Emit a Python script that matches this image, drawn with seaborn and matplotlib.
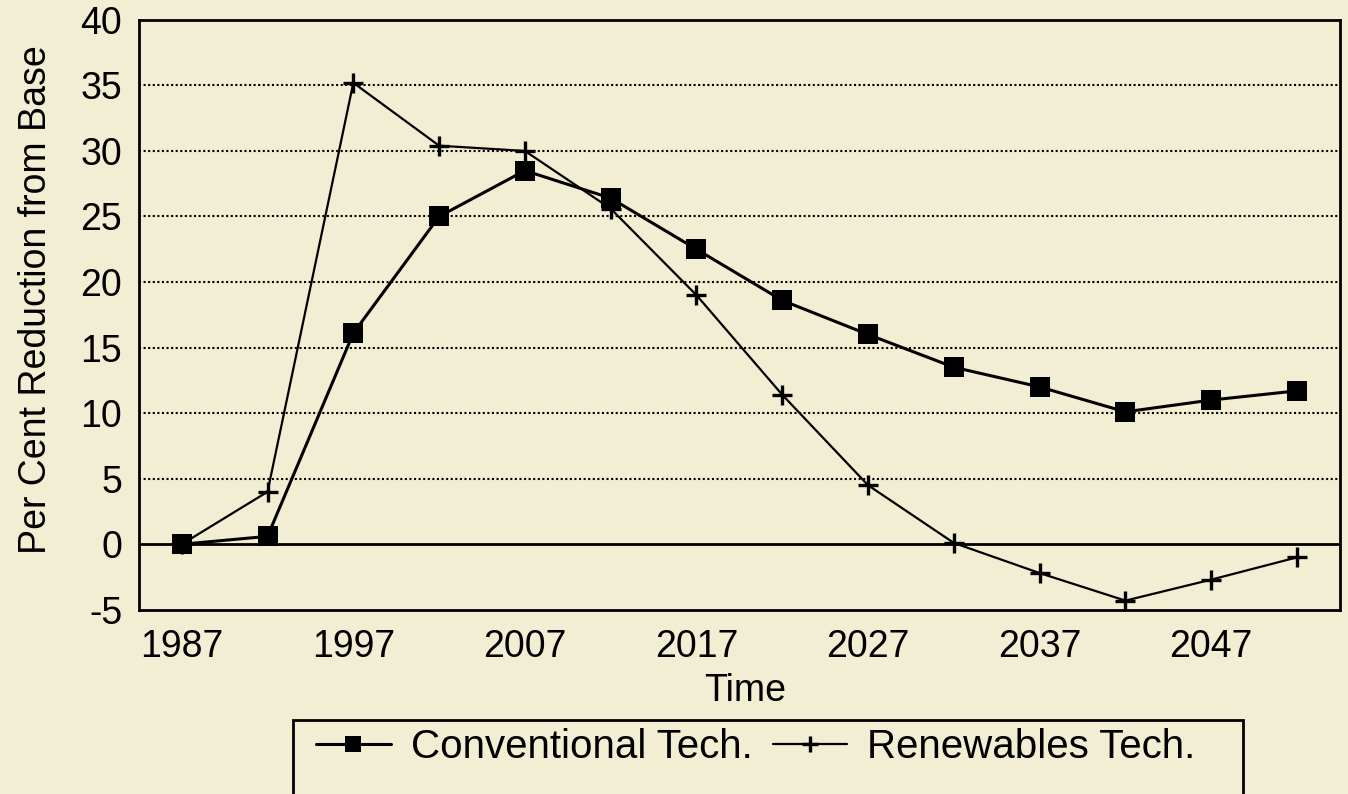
import pandas as pd
import numpy as np
import matplotlib
matplotlib.use("Agg")
import matplotlib.pyplot as plt
import seaborn as sns
from matplotlib.patches import Rectangle

# --- data ---
years = [1987, 1992, 1997, 2002, 2007, 2012, 2017, 2022, 2027, 2032, 2037, 2042, 2047, 2052]
conventional = [0.0, 0.6, 16.1, 25.0, 28.5, 26.4, 22.5, 18.6, 16.0, 13.5, 12.0, 10.1, 11.0, 11.7]
renewables = [0.0, 4.0, 35.2, 30.4, 30.0, 25.6, 19.0, 11.4, 4.5, 0.1, -2.2, -4.3, -2.7, -1.0]
xtick_labels = ["1987", "", "1997", "", "2007", "", "2017", "", "2027", "", "2037", "", "2047", ""]
yticks = list(range(-5, 45, 5))

df = pd.DataFrame({"Time": years, "Conventional Tech.": conventional,
                   "Renewables Tech.": renewables})

BG = "#f2eed3"
FS = 27

sns.set_style("white")
plt.rcParams['font.family'] = ['Liberation Sans', 'DejaVu Sans']
plt.rcParams['axes.unicode_minus'] = False
plt.rcParams['text.color'] = 'black'
plt.rcParams['axes.labelcolor'] = 'black'

fig = plt.figure(figsize=(13.48, 7.94), dpi=100, facecolor=BG)
ax = fig.add_axes([0.103, 0.232, 0.891, 0.743])
ax.set_facecolor(BG)

# --- lines ---
sns.lineplot(data=df, x="Time", y="Conventional Tech.", ax=ax, color="black",
             linewidth=2.2, marker="s", markersize=15, markeredgewidth=0,
             label="Conventional Tech.", zorder=3)
sns.lineplot(data=df, x="Time", y="Renewables Tech.", ax=ax, color="black",
             linewidth=1.6, marker="+", markersize=15, markeredgewidth=2.4,
             markeredgecolor="black", label="Renewables Tech.", zorder=3)

# --- grid: dotted lines, solid zero line ---
for y in yticks:
    if y in (-5, 40):
        continue
    if y == 0:
        ax.axhline(0, color="black", linewidth=2.0, zorder=1)
    else:
        ax.axhline(y, color="black", linewidth=1.5, linestyle=(0, (1, 1.2)), zorder=1)

ax.set_xlim(1984.5, 2054.5)
ax.set_ylim(-5, 40)
ax.set_xticks(years)
ax.set_xticklabels(xtick_labels)
ax.set_yticks(yticks)
ax.tick_params(axis="both", direction="out", length=8.5, width=1.5, labelsize=FS,
               color="black", labelcolor="black")
ax.tick_params(axis="x", pad=5.5)
ax.tick_params(axis="y", pad=3.5)
for s in ax.spines.values():
    s.set_color("black")
    s.set_linewidth(2.0)

ax.set_xlabel("Time", fontsize=FS)
ax.set_ylabel("Per Cent Reduction from Base", fontsize=FS)
ax.xaxis.set_label_coords(0.505, -0.107)
ax.yaxis.set_label_coords(-0.071, 0.525)

# --- legend in a box running off the bottom of the page ---
leg = ax.legend(loc="center left", bbox_to_anchor=(0.2195, 0.0595),
                bbox_transform=fig.transFigure, ncol=2, frameon=False,
                fontsize=29, handlelength=1.85, handletextpad=0.5,
                columnspacing=0.5, borderpad=0, markerscale=0.75)
fig.patches.append(Rectangle((0.2174, -0.05), 0.7047, 0.1432, transform=fig.transFigure,
                             fill=False, edgecolor="black", linewidth=2.0))

fig.savefig("out.png", dpi=100, facecolor=BG)
